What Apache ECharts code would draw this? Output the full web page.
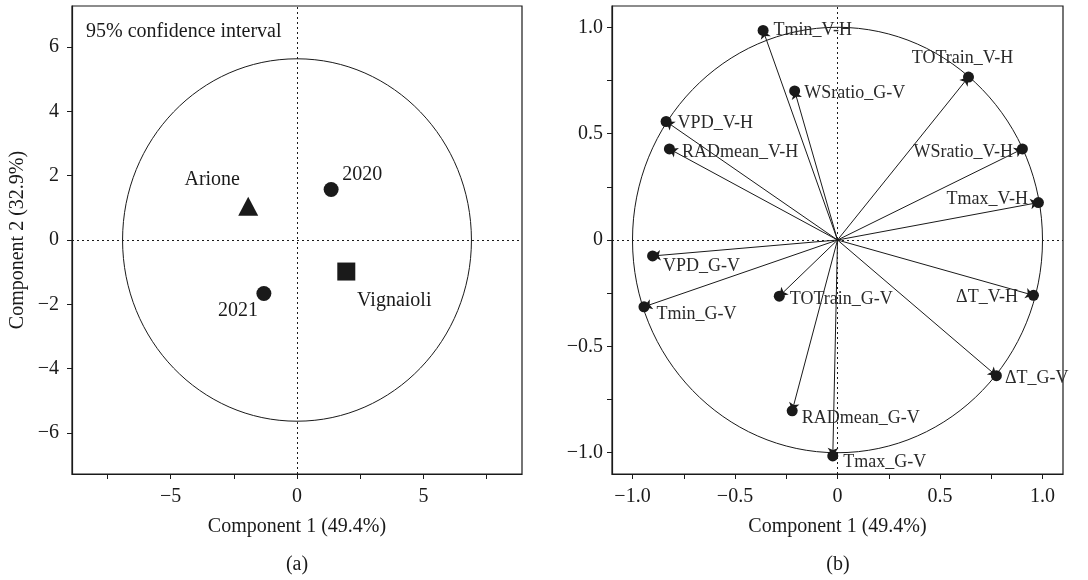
<!DOCTYPE html>
<html>
<head>
<meta charset="utf-8">
<script src="https://cdn.jsdelivr.net/npm/echarts@6/dist/echarts.min.js"></script>
<style>
  html, body { margin: 0; padding: 0; background: #fff; }
  #chart { width: 1088px; height: 580px; }
</style>
</head>
<body>
<div id="chart"></div>
<script>
// panel (a): scores
var scoreNames = ["2020", "2021", "Arione", "Vignaioli"];
var scoreX = [1.35, -1.31, -1.93, 1.95];
var scoreY = [1.57, -1.66, 1.05, -0.98];
var ellipseRx = 6.9;
var ellipseRy = 5.63;

// panel (b): loadings
var loadNames = ["Tmin_V-H", "WSratio_G-V", "TOTrain_V-H", "VPD_V-H", "RADmean_V-H",
  "WSratio_V-H", "Tmax_V-H", "VPD_G-V", "TOTrain_G-V", "Tmin_G-V", "\u0394T_V-H",
  "\u0394T_G-V", "RADmean_G-V", "Tmax_G-V"];
var loadX = [-0.363, -0.209, 0.639, -0.836, -0.820, 0.902, 0.980, -0.902, -0.284, -0.944, 0.956, 0.775, -0.221, -0.023];
var loadY = [0.985, 0.701, 0.766, 0.557, 0.428, 0.428, 0.176, -0.075, -0.264, -0.314, -0.260, -0.638, -0.803, -1.015];

// tick values
var leftXTicks = [-7.5, -5, -2.5, 0, 2.5, 5, 7.5];
var leftXLabels = [-5, 0, 5];
var leftYTicks = [-6, -4, -2, 0, 2, 4, 6];
var rightTicks = [-1, -0.75, -0.5, -0.25, 0, 0.25, 0.5, 0.75, 1];
var rightLabels = [-1, -0.5, 0, 0.5, 1];

var FONT = "Liberation Serif";
var INK = "#1a1a1a";

var scoreStyle = {
  "2020": { symbol: "circle", size: 15, offset: [31, -15] },
  "2021": { symbol: "circle", size: 15, offset: [-26, 17] },
  "Arione": { symbol: "triangle", size: [20, 19], offset: [-36, -26] },
  "Vignaioli": { symbol: "rect", size: 18, offset: [48, 29] }
};

var loadLabelPos = {
  "Tmin_V-H": ["right", 5, [0, 0]],
  "WSratio_G-V": ["right", 4, [0, 2]],
  "TOTrain_V-H": ["top", 4, [-6, 0]],
  "VPD_V-H": ["right", 6, [0, 2]],
  "RADmean_V-H": ["right", 7, [0, 3]],
  "WSratio_V-H": ["left", 4, [0, 3]],
  "Tmax_V-H": ["left", 5, [0, -3]],
  "VPD_G-V": ["right", 5, [0, 10]],
  "TOTrain_G-V": ["right", 5, [0, 3]],
  "Tmin_G-V": ["right", 7, [0, 7]],
  "\u0394T_V-H": ["left", 10, [0, 2]],
  "\u0394T_G-V": ["right", 3, [0, 3]],
  "RADmean_G-V": ["right", 4, [0, 7]],
  "Tmax_G-V": ["right", 5, [0, 6]]
};

function fmt(v, digits) {
  var s = v === 0 ? "0" : v.toFixed(digits);
  return s.replace("-", "\u2212");
}

function axisBase() {
  return {
    type: "value",
    axisLine: { onZero: false, lineStyle: { color: INK, width: 1.2 } },
    axisTick: { show: true, length: 5, lineStyle: { color: INK } },
    splitLine: { show: false },
    axisLabel: { fontFamily: FONT, fontSize: 20, color: INK },
    nameTextStyle: { fontFamily: FONT, fontSize: 20, color: INK }
  };
}

function ellipseRenderer(rx, ry) {
  return function (params, api) {
    var c = api.coord([0, 0]);
    var s = api.size([rx, ry]);
    return {
      type: "ellipse",
      shape: { cx: c[0], cy: c[1], rx: s[0], ry: s[1] },
      style: { fill: "none", stroke: INK, lineWidth: 1 }
    };
  };
}

var zeroLines = {
  silent: true,
  symbol: "none",
  label: { show: false },
  lineStyle: { color: INK, type: [2, 3], width: 1 },
  data: [{ xAxis: 0 }, { yAxis: 0 }]
};

var xA = axisBase();
xA.gridIndex = 0; xA.min = -8.9; xA.max = 8.9;
xA.axisTick.customValues = leftXTicks;
xA.axisLabel.customValues = leftXLabels;
xA.axisLabel.margin = 13;
xA.axisLabel.formatter = function (v) { return fmt(v, 0); };
xA.name = "Component 1 (49.4%)"; xA.nameLocation = "middle"; xA.nameGap = 43;

var yA = axisBase();
yA.gridIndex = 0; yA.min = -7.27; yA.max = 7.27;
yA.axisTick.customValues = leftYTicks;
yA.axisLabel.customValues = leftYTicks;
yA.axisLabel.margin = 13;
yA.axisLabel.formatter = function (v) { return fmt(v, 0); };
yA.name = "Component 2 (32.9%)"; yA.nameLocation = "middle"; yA.nameGap = 44;

var xB = axisBase();
xB.gridIndex = 1; xB.min = -1.1; xB.max = 1.1;
xB.axisTick.customValues = rightTicks;
xB.axisLabel.customValues = rightLabels;
xB.axisLabel.margin = 13;
xB.axisLabel.formatter = function (v) { return fmt(v, 1); };
xB.name = "Component 1 (49.4%)"; xB.nameLocation = "middle"; xB.nameGap = 43;

var yB = axisBase();
yB.gridIndex = 1; yB.min = -1.1; yB.max = 1.1;
yB.axisTick.customValues = rightTicks;
yB.axisLabel.customValues = rightLabels;
yB.axisLabel.margin = 9;
yB.axisLabel.formatter = function (v) { return fmt(v, 1); };

var chart = echarts.init(document.getElementById("chart"));
var option = {
  backgroundColor: "#fff",
  animation: false,
  grid: [
    { left: 72, top: 6, width: 450, height: 468, show: true, borderColor: INK, borderWidth: 1.2 },
    { left: 612, top: 6, width: 451, height: 468, show: true, borderColor: INK, borderWidth: 1.2 }
  ],
  xAxis: [xA, xB],
  yAxis: [yA, yB],
  graphic: [
    { type: "text", left: 86, top: 22, style: { text: "95% confidence interval", fontFamily: FONT, fontSize: 20, fill: INK } },
    { type: "text", x: 297, y: 565, style: { text: "(a)", fontFamily: FONT, fontSize: 20, fill: INK, align: "center", verticalAlign: "middle" } },
    { type: "text", x: 838, y: 565, style: { text: "(b)", fontFamily: FONT, fontSize: 20, fill: INK, align: "center", verticalAlign: "middle" } }
  ],
  series: [
    {
      type: "custom",
      xAxisIndex: 0, yAxisIndex: 0,
      silent: true,
      data: [[0, 0]],
      renderItem: ellipseRenderer(ellipseRx, ellipseRy),
      markLine: zeroLines,
      z: 1
    },
    {
      type: "scatter",
      xAxisIndex: 0, yAxisIndex: 0,
      z: 3,
      itemStyle: { color: INK, opacity: 1 },
      data: scoreNames.map(function (n, i) {
        var st = scoreStyle[n];
        return {
          name: n,
          value: [scoreX[i], scoreY[i]],
          symbol: st.symbol,
          symbolSize: st.size,
          label: {
            show: true, position: "inside", offset: st.offset,
            formatter: n, fontFamily: FONT, fontSize: 20, color: INK
          }
        };
      })
    },
    {
      type: "custom",
      xAxisIndex: 1, yAxisIndex: 1,
      silent: true,
      data: [[0, 0]],
      renderItem: ellipseRenderer(1, 1),
      markLine: zeroLines,
      z: 1
    },
    {
      type: "lines",
      coordinateSystem: "cartesian2d",
      xAxisIndex: 1, yAxisIndex: 1,
      silent: true,
      symbol: ["none", "arrow"],
      symbolSize: 8,
      lineStyle: { color: INK, width: 1, opacity: 1, curveness: 0 },
      data: loadX.map(function (x, i) {
        return { coords: [[0, 0], [x, loadY[i]]] };
      }),
      z: 2
    },
    {
      type: "scatter",
      xAxisIndex: 1, yAxisIndex: 1,
      symbol: "circle",
      symbolSize: 11,
      z: 3,
      itemStyle: { color: INK, opacity: 1 },
      data: loadNames.map(function (n, i) {
        var p = loadLabelPos[n];
        return {
          name: n,
          value: [loadX[i], loadY[i]],
          label: {
            show: true, position: p[0], distance: p[1], offset: p[2],
            formatter: n, fontFamily: FONT, fontSize: 18, color: "#2a2a2a"
          }
        };
      })
    }
  ]
};
chart.setOption(option);
window.addEventListener("resize", function () {
  chart.resize();
});
</script>
</body>
</html>
